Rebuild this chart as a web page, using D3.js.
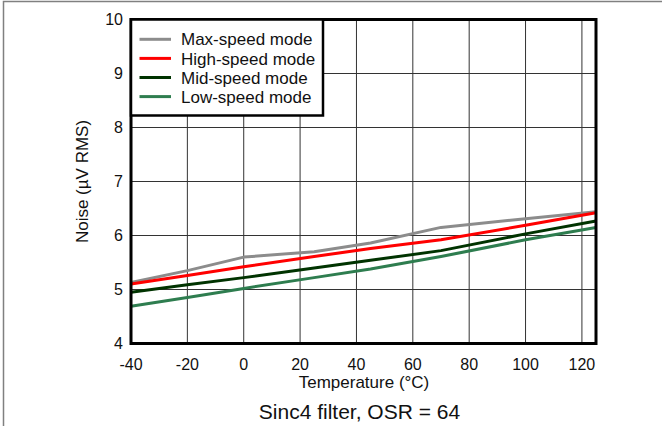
<!DOCTYPE html>
<html lang="en">
  <head>
    <meta charset="UTF-8" />
    <title>Noise vs Temperature</title>
    <script src="https://d3js.org/d3.v7.min.js"></script>
    <style>
      body { margin: 0; background: #fff; }
      text { font-family: 'Liberation Sans', Arial, sans-serif; fill: #111; }
    </style>
  </head>
  <body>
    <svg width="662" height="426"></svg>
    <script>
      // data
      var temps = [-40, -20, 0, 25, 45, 70, 100, 125]
      var maxSpeed = [5.13, 5.35, 5.6, 5.7, 5.86, 6.15, 6.31, 6.44]
      var highSpeed = [5.1, 5.26, 5.42, 5.61, 5.76, 5.92, 6.19, 6.42]
      var midSpeed = [4.95, 5.09, 5.22, 5.4, 5.54, 5.72, 6.03, 6.27]
      var lowSpeed = [4.69, 4.85, 5.02, 5.22, 5.38, 5.61, 5.92, 6.15]
      var seriesNames = ['Max-speed mode', 'High-speed mode', 'Mid-speed mode', 'Low-speed mode']
      var seriesColors = ['#8c8c8c', '#ff0000', '#003300', '#2e7d4f']
      var xTicks = [-40, -20, 0, 20, 40, 60, 80, 100, 120]
      var yTicks = [4, 5, 6, 7, 8, 9, 10]

      var series = [maxSpeed, highSpeed, midSpeed, lowSpeed]

      var svg = d3.select('svg')
      // note: "top" is taken by window.top, so use plot* names
      var plotL = 131, plotR = 596, plotT = 19.5, plotB = 343.5

      var x = d3.scaleLinear().domain([-40, 125]).range([plotL, plotR])
      var y = d3.scaleLinear().domain([4, 10]).range([plotB, plotT])

      // outer frame (top and left only)
      svg.append('path')
        .attr('d', 'M3.5,426 V1.5 H662')
        .attr('fill', 'none')
        .attr('stroke', '#808080')
        .attr('stroke-width', 1.5)

      // grid
      var grid = svg.append('g')
      grid.selectAll('.vg')
        .data(xTicks.slice(1))
        .enter()
        .append('line')
        .attr('x1', d => x(d)).attr('x2', d => x(d))
        .attr('y1', plotT).attr('y2', plotB)
        .attr('stroke', '#333')
        .attr('stroke-width', 1)
      grid.selectAll('.hg')
        .data(yTicks.slice(1, -1))
        .enter()
        .append('line')
        .attr('x1', plotL).attr('x2', plotR)
        .attr('y1', d => y(d)).attr('y2', d => y(d))
        .attr('stroke', '#333')
        .attr('stroke-width', 1)

      // curves
      var line = d3.line()
        .x((d, i) => x(temps[i]))
        .y(d => y(d))
      svg.selectAll('.series')
        .data(series)
        .enter()
        .append('path')
        .attr('d', d => line(d))
        .attr('fill', 'none')
        .attr('stroke', (d, i) => seriesColors[i])
        .attr('stroke-width', 3)
        .attr('stroke-linejoin', 'round')

      // plot frame
      svg.append('rect')
        .attr('x', plotL).attr('y', plotT)
        .attr('width', plotR - plotL).attr('height', plotB - plotT)
        .attr('fill', 'none')
        .attr('stroke', '#000')
        .attr('stroke-width', 3)

      // tick labels
      svg.selectAll('.xt')
        .data(xTicks)
        .enter()
        .append('text')
        .attr('x', d => x(d))
        .attr('y', 369.5)
        .attr('text-anchor', 'middle')
        .style('font-size', '16px')
        .text(d => d)
      svg.selectAll('.yt')
        .data(yTicks)
        .enter()
        .append('text')
        .attr('x', 123)
        .attr('y', d => y(d))
        .attr('dy', '0.36em')
        .attr('text-anchor', 'end')
        .style('font-size', '16px')
        .text(d => d)

      // axis titles
      svg.append('text')
        .attr('x', 364).attr('y', 388)
        .attr('text-anchor', 'middle')
        .style('font-size', '17px')
        .text('Temperature (\u00b0C)')
      svg.append('text')
        .attr('transform', 'translate(88,181.5) rotate(-90)')
        .attr('text-anchor', 'middle')
        .style('font-size', '17px')
        .text('Noise (\u00b5V RMS)')
      svg.append('text')
        .attr('x', 359.5).attr('y', 419)
        .attr('text-anchor', 'middle')
        .style('font-size', '21px')
        .text('Sinc4 filter, OSR = 64')

      // legend
      var lg = svg.append('g')
      lg.append('rect')
        .attr('x', plotL).attr('y', plotT)
        .attr('width', 323 - plotL).attr('height', 115.5 - plotT)
        .attr('fill', '#fff')
        .attr('stroke', '#000')
        .attr('stroke-width', 2.5)
      var items = lg.selectAll('.item')
        .data(seriesNames)
        .enter()
        .append('g')
        .attr('transform', (d, i) => `translate(0, ${39.3 + i * 19.1})`)
      items.append('line')
        .attr('x1', 139.5).attr('x2', 171)
        .attr('stroke', (d, i) => seriesColors[i])
        .attr('stroke-width', 3)
      items.append('text')
        .attr('x', 181)
        .attr('dy', '0.36em')
        .style('font-size', '17px')
        .text(d => d)
    </script>
  </body>
</html>
